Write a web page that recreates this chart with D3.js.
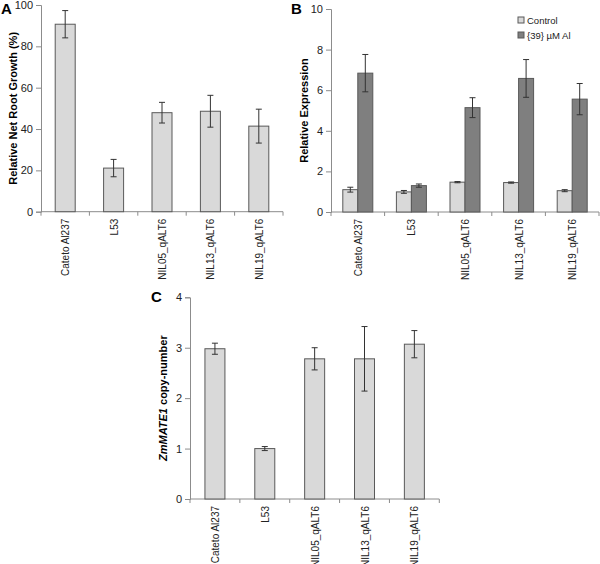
<!DOCTYPE html>
<html><head><meta charset="utf-8">
<script src="https://cdn.jsdelivr.net/npm/d3@7"></script>
<style>body{margin:0;background:#fff}svg{display:block;font-family:"Liberation Sans",Arial,sans-serif}</style>
</head><body><svg id="c" width="600" height="564"></svg>
<script>
const categories = ["Cateto Al237","L53","NIL05_qALT6","NIL13_qALT6","NIL19_qALT6"];
const growthVals = [90.7, 21.1, 47.9, 48.6, 41.4];
const growthErr  = [6.6, 4.2, 5.0, 7.7, 8.2];
const yTicksA = [0,20,40,60,80,100];
const seriesB = ["Control","{39} µM Al"];
const controlVals = [1.10, 0.99, 1.47, 1.45, 1.05];
const controlErr  = [0.12, 0.07, 0.03, 0.03, 0.05];
const alVals = [6.84, 1.30, 5.14, 6.58, 5.56];
const alErr  = [0.92, 0.08, 0.49, 0.93, 0.77];
const yTicksB = [0,2,4,6,8,10];
const copyVals = [2.98, 1.00, 2.78, 2.78, 3.07];
const copyErr  = [0.11, 0.04, 0.22, 0.64, 0.27];
const yTicksC = [0,1,2,3,4];

const svg = d3.select("#c");
const axisCol = "#8c8c8c", barStroke = "#595959", light = "#d9d9d9", dark = "#7f7f7f";

function panel(o){
  const g = svg.append("g");
  const x = d3.scaleBand().domain(categories).range([o.x0,o.x1]);
  const y = d3.scaleLinear().domain([0,o.max]).range([o.y0,o.y1]);
  const ya = g.append("g").attr("transform",`translate(${o.x0},0)`)
    .call(d3.axisLeft(y).tickValues(o.ticks).tickFormat(d3.format("d")).tickSize(5).tickPadding(3));
  ya.select(".domain").attr("stroke",axisCol);
  ya.selectAll(".tick line").attr("stroke",axisCol);
  ya.selectAll("text").attr("font-size",11).attr("fill","#222").attr("font-family","Liberation Sans, Arial");
  g.append("line").attr("x1",o.x0).attr("x2",o.x1).attr("y1",o.y0).attr("y2",o.y0).attr("stroke",axisCol);
  const bounds = categories.map(c=>x(c)).concat([o.x1]);
  g.selectAll(".xt").data(bounds).join("line").attr("x1",d=>d).attr("x2",d=>d)
    .attr("y1",o.y0).attr("y2",o.y0+4).attr("stroke",axisCol);
  g.selectAll(".xl").data(categories).join("text")
    .attr("transform",d=>`translate(${x(d)+x.bandwidth()/2+4},${o.y0+7}) rotate(-90)`)
    .attr("text-anchor","end").attr("font-size",10).attr("fill","#222").text(d=>d);
  o.series.forEach((s,si)=>{
    const off = o.offsets[si];
    const cx = c=>x(c)+x.bandwidth()/2+off;
    g.selectAll(null).data(categories).join("rect")
      .attr("x",c=>cx(c)-o.bw/2).attr("width",o.bw)
      .attr("y",(c,i)=>y(s.vals[i])).attr("height",(c,i)=>o.y0-y(s.vals[i]))
      .attr("fill",s.fill).attr("stroke",barStroke).attr("stroke-width",1);
    const eg = g.selectAll(null).data(categories).join("g");
    eg.append("line").attr("x1",c=>cx(c)).attr("x2",c=>cx(c))
      .attr("y1",(c,i)=>y(s.vals[i]+s.err[i])).attr("y2",(c,i)=>y(s.vals[i]-s.err[i]))
      .attr("stroke","#333");
    [1,-1].forEach(sg=>{
      eg.append("line").attr("x1",c=>cx(c)-3).attr("x2",c=>cx(c)+3)
        .attr("y1",(c,i)=>y(s.vals[i]+sg*s.err[i])).attr("y2",(c,i)=>y(s.vals[i]+sg*s.err[i]))
        .attr("stroke","#333");
    });
  });
  g.append("text").attr("x",o.lx).attr("y",o.ly).attr("font-size",15).attr("font-weight","bold").text(o.letter);
  const t = g.append("text").attr("transform",`translate(${o.tx},${(o.y0+o.y1)/2}) rotate(-90)`)
    .attr("text-anchor","middle").attr("font-size",11).attr("font-weight","bold");
  o.title.forEach(p=>t.append("tspan").attr("font-style",p.it?"italic":"normal").text(p.t));
}

panel({x0:41,x1:283,y0:211.7,y1:5,max:100,ticks:yTicksA,bw:20,offsets:[0],
  series:[{vals:growthVals,err:growthErr,fill:light}],letter:"A",lx:1,ly:14,tx:17,
  title:[{t:"Relative Net Root Growth (%)"}]});
panel({x0:331,x1:599,y0:212,y1:9,max:10,ticks:yTicksB,bw:15,offsets:[-7.5,7.5],
  series:[{vals:controlVals,err:controlErr,fill:light},{vals:alVals,err:alErr,fill:dark}],
  letter:"B",lx:291,ly:14,tx:308,title:[{t:"Relative Expression"}]});
panel({x0:190,x1:439.3,y0:499,y1:297.3,max:4,ticks:yTicksC,bw:20,offsets:[0],
  series:[{vals:copyVals,err:copyErr,fill:light}],letter:"C",lx:151,ly:302,tx:167,
  title:[{t:"ZmMATE1",it:true},{t:" copy-number"}]});

const leg = svg.append("g");
seriesB.forEach((s,i)=>{
  leg.append("rect").attr("x",518).attr("y",17+i*15).attr("width",6).attr("height",6)
    .attr("fill",i?dark:light).attr("stroke",barStroke);
  leg.append("text").attr("x",527).attr("y",24+i*15).attr("font-size",9.5).attr("fill","#222").text(s);
});
</script></body></html>
